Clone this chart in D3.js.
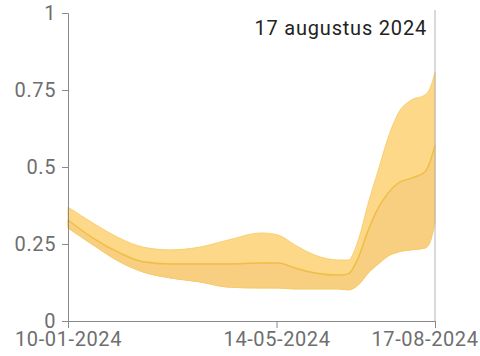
<!DOCTYPE html>
<html>
<head>
<meta charset="utf-8">
<script src="https://cdn.jsdelivr.net/npm/d3@7"></script>
<style>
  body { margin: 0; background: #fff; }
  svg text { font-family: Roboto, "Noto Sans", sans-serif; letter-spacing: 0.6px; }
</style>
</head>
<body>
<svg id="chart" width="480" height="356"></svg>
<script>
// band chart: lower / median / upper estimate per date

var dates = ["2024-01-10", "2024-01-25", "2024-02-10", "2024-02-24", "2024-03-11", "2024-03-29",
	"2024-04-15", "2024-05-05", "2024-05-15", "2024-05-25", "2024-06-06", "2024-06-20",
	"2024-06-26", "2024-07-02", "2024-07-08", "2024-07-14", "2024-07-20", "2024-07-26",
	"2024-08-03", "2024-08-11", "2024-08-14", "2024-08-17"];
var upper = [0.370, 0.318, 0.269, 0.240, 0.231, 0.240, 0.263, 0.286, 0.279, 0.247, 0.214, 0.198,
	0.198, 0.263, 0.383, 0.490, 0.597, 0.675, 0.718, 0.734, 0.756, 0.808];
var median = [0.328, 0.269, 0.221, 0.192, 0.185, 0.185, 0.185, 0.188, 0.188, 0.172, 0.156, 0.149,
	0.153, 0.205, 0.295, 0.367, 0.416, 0.448, 0.464, 0.484, 0.516, 0.571];
var lower = [0.302, 0.247, 0.192, 0.159, 0.140, 0.127, 0.110, 0.107, 0.107, 0.104, 0.104, 0.104,
	0.101, 0.117, 0.156, 0.185, 0.211, 0.224, 0.231, 0.237, 0.256, 0.321];

var y_ticks = [0, 0.25, 0.5, 0.75, 1];
var x_ticks = ["2024-01-10", "2024-05-14", "2024-08-17"];
var title = "17 augustus 2024";

var parse = d3.timeParse("%Y-%m-%d");
var fmt = d3.timeFormat("%d-%m-%Y");

var rows = dates.map((d, i) => ({date: parse(d), lo: lower[i], mid: median[i], hi: upper[i]}));

var svg = d3.select("#chart");
var margin = {left: 68, right: 45, top: 13, bottom: 35};
var width = +svg.attr("width");
var height = +svg.attr("height");

var x = d3.scaleTime()
	.domain([parse(dates[0]), parse(dates[dates.length - 1])])
	.range([margin.left, width - margin.right]);
var y = d3.scaleLinear()
	.domain([0, 1])
	.range([height - margin.bottom, margin.top]);

var curve = d3.curveMonotoneX;

// whole band (lower -> upper)
svg.append("path")
	.datum(rows)
	.attr("fill", "#fcd888")
	.attr("stroke", "#f6ca63")
	.attr("stroke-width", 0.8)
	.attr("d", d3.area().x(d => x(d.date)).y0(d => y(d.lo)).y1(d => y(d.hi)).curve(curve));

// lower part (lower -> median), slightly darker
svg.append("path")
	.datum(rows)
	.attr("fill", "#f8cf80")
	.attr("stroke", "#f6ca63")
	.attr("stroke-width", 0.8)
	.attr("d", d3.area().x(d => x(d.date)).y0(d => y(d.lo)).y1(d => y(d.mid)).curve(curve));

svg.append("path")
	.datum(rows)
	.attr("fill", "none")
	.attr("stroke", "#efbf45")
	.attr("stroke-width", 1.5)
	.attr("d", d3.line().x(d => x(d.date)).y(d => y(d.mid)).curve(curve));

// marker for the current date
var last = parse(dates[dates.length - 1]);
svg.append("line")
	.attr("x1", x(last)).attr("x2", x(last))
	.attr("y1", y(1) - 3).attr("y2", y(0))
	.attr("stroke", "#b4b4b4")
	.attr("stroke-width", 1);

var yAxis = svg.append("g")
	.attr("transform", "translate(" + margin.left + ",0)")
	.call(d3.axisLeft(y).tickValues(y_ticks).tickFormat(d3.format("")).tickSize(6).tickPadding(6));

var xAxis = svg.append("g")
	.attr("transform", "translate(0," + y(0) + ")")
	.call(d3.axisBottom(x).tickValues(x_ticks.map(parse)).tickFormat(fmt).tickSize(7).tickPadding(4));

[yAxis, xAxis].forEach(g => {
	g.selectAll("path, line").attr("stroke", "#8a8a8a");
	g.selectAll("text").attr("fill", "#6e6e6e").style("font-size", "20px");
});

// last date label is pulled inward so it stays inside the picture
xAxis.selectAll(".tick:last-of-type text").attr("text-anchor", "end").attr("dx", 43);

svg.append("text")
	.attr("x", 427)
	.attr("y", 35)
	.attr("text-anchor", "end")
	.attr("fill", "#222")
	.style("font-size", "20px")
	.style("letter-spacing", "0.8px")
	.text(title);
</script>
</body>
</html>
